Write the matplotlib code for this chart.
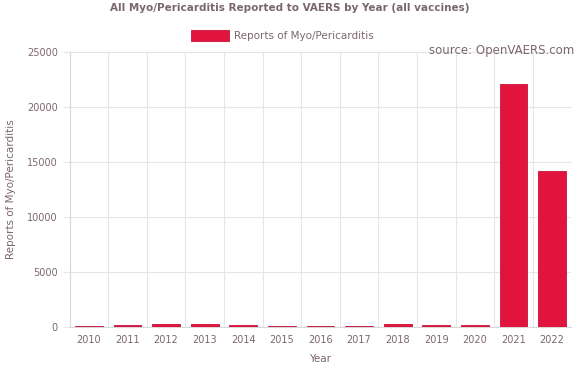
import matplotlib.pyplot as plt
import numpy as np

years = ['2010', '2011', '2012', '2013', '2014', '2015', '2016',
         '2017', '2018', '2019', '2020', '2021', '2022']
reports = [120, 150, 260, 270, 150, 110, 100, 120, 300, 180, 200, 22050, 14200]

txt = '#7b6670'
bar_col = '#e0143c'

plt.rcParams['font.family'] = 'DejaVu Sans'

fig = plt.figure(figsize=(5.8, 3.76), dpi=100)
ax = fig.add_axes([0.12, 0.13, 0.865, 0.732])

x = np.arange(len(years))
ax.bar(x, reports, width=0.72, color=bar_col, edgecolor='#c8103a', linewidth=0.6,
       label='Reports of Myo/Pericarditis', zorder=3)

ax.set_xlim(-0.5, len(years) - 0.5)
ax.set_ylim(0, 25000)
ax.set_yticks([0, 5000, 10000, 15000, 20000, 25000])
ax.set_xticks(x)
ax.set_xticklabels(years)
ax.set_xticks(np.arange(-0.5, len(years), 1), minor=True)
ax.grid(True, which='minor', axis='x', color='#e6e6e6', linewidth=0.8)
ax.grid(True, which='major', axis='y', color='#e6e6e6', linewidth=0.8)
ax.tick_params(axis='x', which='both', length=0)
ax.tick_params(axis='y', length=5, color='#e6e6e6', colors=txt, labelsize=7)
ax.tick_params(axis='x', colors=txt, labelsize=7, pad=6)
for s in ['top', 'right']:
    ax.spines[s].set_visible(False)
for s in ['left', 'bottom']:
    ax.spines[s].set_color('#d8d8d8')

ax.set_xlabel('Year', color=txt, fontsize=7.5, labelpad=6)
ax.set_ylabel('Reports of Myo/Pericarditis', color=txt, fontsize=7.5, labelpad=8)

fig.text(0.5, 0.978, 'All Myo/Pericarditis Reported to VAERS by Year (all vaccines)',
         ha='center', va='center', color=txt, fontsize=7.5, fontweight='bold')
fig.legend(loc='center', bbox_to_anchor=(0.487, 0.905), frameon=False,
           fontsize=7.5, handlelength=3.6, handleheight=1.3, labelcolor=txt,
           borderaxespad=0, handletextpad=0.5)
fig.text(0.99, 0.866, 'source: OpenVAERS.com', ha='right', va='center',
         color=txt, fontsize=8.5)

fig.savefig('out.png', dpi=100)
